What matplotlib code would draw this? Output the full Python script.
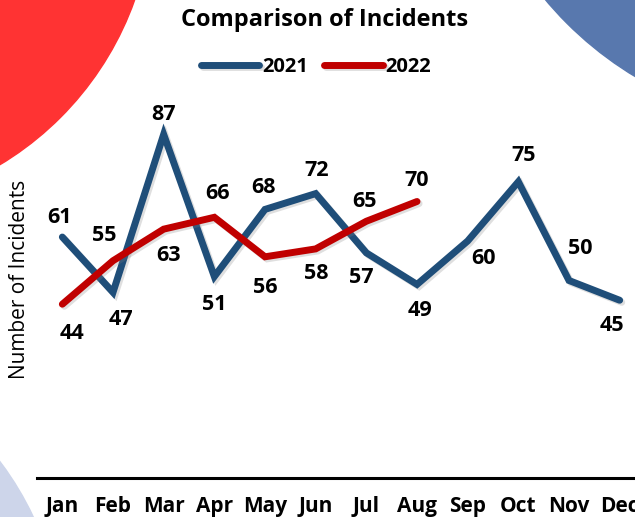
import matplotlib.pyplot as plt
import matplotlib.patheffects as pe
from matplotlib.patches import Circle

months = ["Jan", "Feb", "Mar", "Apr", "May", "Jun", "Jul", "Aug", "Sep", "Oct", "Nov", "Dec"]
incidents_2021 = [61, 47, 87, 51, 68, 72, 57, 49, 60, 75, 50, 45]
incidents_2022 = [44, 55, 63, 66, 56, 58, 65, 70]

# label offsets in pixels (dx, dy), dy positive = up
offsets_2021 = [(-3, 20), (8, -27), (0, 20), (0, -28), (-2, 22), (1, 23),
                (-5, -25), (3, -26), (16, -18), (5, 26), (11, 32), (-8, -25)]
offsets_2022 = [(10, -29), (-9, 25), (5, -26), (3, 24), (0, -31), (1, -25), (-2, 20), (0, 21)]

plt.rcParams["font.family"] = ["Open Sans", "DejaVu Sans"]

fig = plt.figure(figsize=(6.35, 5.17), dpi=100)

# decorative background circles (pixel coords)
fig.patches.append(Circle((-163, 623), 316, color="#ff3333", transform=None, zorder=0))
fig.patches.append(Circle((820, 747), 358, color="#5878ae", transform=None, zorder=0))
fig.patches.append(Circle((-250, -133), 313, color="#cdd5ea", transform=None, zorder=0))

ax = fig.add_axes([37 / 635, 39 / 517, 608 / 635, 395 / 517])
ax.patch.set_alpha(0)

shadow = [pe.SimpleLineShadow(offset=(1.5, -1.5), alpha=0.25, shadow_color="gray"), pe.Normal()]
x21 = list(range(len(incidents_2021)))
x22 = list(range(len(incidents_2022)))
ax.plot(x21, incidents_2021, color="#1f4e79", lw=5, solid_capstyle="round",
        solid_joinstyle="miter", label="2021", path_effects=shadow)
ax.plot(x22, incidents_2022, color="#c00000", lw=5, solid_capstyle="round",
        solid_joinstyle="miter", label="2022", path_effects=shadow)

px = 0.72  # points per pixel
for x, v, (dx, dy) in zip(x21, incidents_2021, offsets_2021):
    ax.annotate(str(v), (x, v), xytext=(dx * px, dy * px), textcoords="offset points",
                ha="center", va="center", fontsize=15.5, fontweight="bold")
for x, v, (dx, dy) in zip(x22, incidents_2022, offsets_2022):
    ax.annotate(str(v), (x, v), xytext=(dx * px, dy * px), textcoords="offset points",
                ha="center", va="center", fontsize=15.5, fontweight="bold")

ax.set_xlim(-0.5, 11.5)
ax.set_ylim(0, 100)
ax.set_xticks(x21)
ax.set_xticklabels(months, fontsize=15, fontweight="bold")
ax.tick_params(axis="x", length=0, pad=13)
ax.set_yticks([])
for s in ["top", "right", "left"]:
    ax.spines[s].set_visible(False)
ax.spines["bottom"].set_linewidth(2.2)

fig.text(20 / 635, 1 - 279 / 517, "Number of Incidents", rotation=90,
         ha="center", va="center", fontsize=15)
fig.text(325 / 635, 1 - 20 / 517, "Comparison of Incidents", ha="center", va="center",
         fontsize=17, fontweight="bold")
fig.legend(loc="center", bbox_to_anchor=(316 / 635, 1 - 67 / 517), ncol=2, frameon=False,
           prop={"weight": "bold", "size": 14.5}, handlelength=2.9, handletextpad=0.15,
           columnspacing=0.8)

fig.savefig("out.png", dpi=100)
